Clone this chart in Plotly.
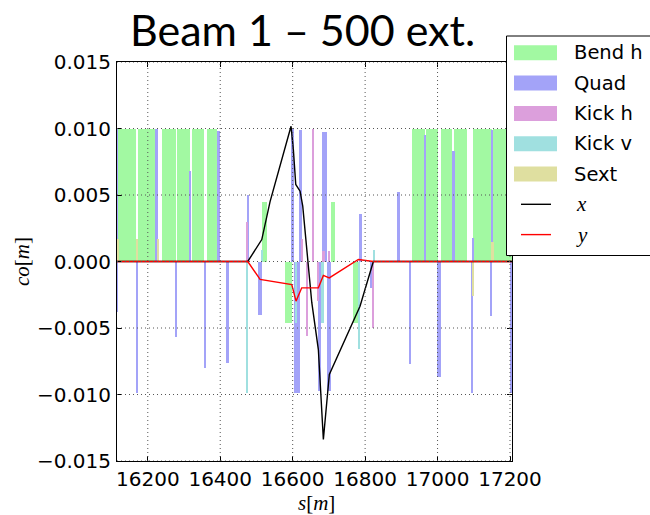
import plotly.graph_objects as go

# ---- lattice elements: centre s [m], length [m], plotted strength ----
bend_s = [16143.3, 16197.2, 16258.8, 16298.4, 16338.8, 16376.6,
          16521.6, 16588.0, 16711.0, 16775.0,
          16947.0, 16985.0, 17025.0, 17063.4, 17124.0, 17179.5]
bend_len = [48.8, 49.6, 37.0, 36.8, 34.8, 27.6,
            14.0, 18.0, 12.0, 15.0,
            36.6, 34.0, 32.0, 34.2, 50.8, 51.0]
bend_val = [0.010, 0.010, 0.010, 0.010, 0.010, 0.010,
            0.0045, -0.0046, 0.0045, -0.0046,
            0.010, 0.010, 0.010, 0.010, 0.010, 0.010]

quad_s = [16115, 16115, 16170, 16224, 16278, 16317, 16359, 16395, 16419.5,
          16477, 16510, 16600, 16611, 16622, 16675, 16688, 16700,
          16787, 16818, 16892, 16924, 16966, 17004, 17043, 17095, 17097,
          17148, 17150, 17202]
quad_len = [8, 8, 5, 7, 5, 7, 5, 8, 9,
            7, 9, 7, 17, 7, 9, 14, 10,
            7, 8, 7, 8, 4, 9, 8, 6, 6,
            3, 7, 6]
quad_val = [0.010, -0.0038, -0.0099, 0.010, -0.0057, 0.0068, -0.0080, 0.0098, -0.0076,
            0.0050, -0.0040, 0.0100, -0.0099, 0.0099, -0.0097, 0.0097, -0.0097,
            0.0036, -0.0020, 0.0052, -0.0077, 0.0095, -0.0087, 0.0083, -0.0099, 0.0018,
            -0.0041, 0.0099, -0.0099]

kickh_s = [16475, 16627, 16641, 16655, 16670, 16685, 16702, 16823]
kickh_len = [4, 3, 3, 3, 3, 8, 4, 3]
kickh_val = [0.0030, 0.0017, -0.0056, 0.0100, -0.0030, 0.0008, 0.0008, -0.0050]

kickv_s = [16475, 16516, 16610, 16683, 16784, 16825]
kickv_len = [3, 4, 5, 5, 4, 4]
kickv_val = [-0.0099, 0.0009, -0.0046, -0.0046, -0.0066, 0.0009]

sext_s = [16119, 16172, 16228, 17099, 17152]
sext_len = [4, 4, 4, 3, 5]
sext_val = [0.0017, 0.0017, 0.0017, -0.0026, 0.0015]

# ---- closed orbit ----
orbit_x_s = [16115, 16476, 16514.7, 16537.6, 16595.5, 16601.9, 16608.5, 16615.7,
             16620.4, 16627.8, 16638.9, 16648.0, 16652.7, 16670.9, 16684.7,
             16701.2, 16785.9, 16822.7, 17206]
orbit_x = [0, 0, 0.00165, 0.0045, 0.01017, 0.00842, 0.00579, 0.00554,
           0.00529, 0.00416, 0.00115, -0.00135, -0.00308, -0.00662, -0.01338,
           -0.0085, -0.00336, 0, 0]

orbit_y_s = [16115, 16476, 16510, 16565, 16597.5, 16609.3, 16625, 16671,
             16684.7, 16701, 16781.3, 16822.7, 17206]
orbit_y = [0, 0, -0.00135, -0.0016, -0.00173, -0.00298, -0.00198, -0.00198,
           -0.00105, -0.00123, 0.00015, 0, 0]

x_ticks = [16200, 16400, 16600, 16800, 17000, 17200]
y_ticks = [-0.015, -0.010, -0.005, 0.0, 0.005, 0.010, 0.015]

elem_names = ["Bend h", "Quad", "Kick h", "Kick v", "Sext"]
elem_colors = ["#a2f9a2", "#a3a3f8", "#dc9fdc", "#a0e0e0", "#dfdfa0"]
line_names = ["x", "y"]
line_colors = ["#000000", "#ff0000"]

fig = go.Figure()

groups = [(bend_s, bend_len, bend_val), (quad_s, quad_len, quad_val),
          (kickh_s, kickh_len, kickh_val), (kickv_s, kickv_len, kickv_val),
          (sext_s, sext_len, sext_val)]
for (s, L, v), name, col in zip(groups, elem_names, elem_colors):
    fig.add_trace(go.Bar(x=s, y=v, width=L, name=name, showlegend=False,
                         marker=dict(color=col, line=dict(width=0)),
                         hoverinfo="skip"))

for s, v, name, col in [(orbit_x_s, orbit_x, "x", "#000000"),
                        (orbit_y_s, orbit_y, "y", "#ff0000")]:
    fig.add_trace(go.Scatter(x=s, y=v, mode="lines", name=name, showlegend=False,
                             line=dict(color=col, width=1.4), hoverinfo="skip"))

# plot-area geometry (pixels)
L_PX, R_PX, T_PX, B_PX = 117, 512, 62, 461
W, H = 650, 515


def px(xp):
    return (xp - L_PX) / (R_PX - L_PX)


def py(yp):
    return (B_PX - yp) / (B_PX - T_PX)


shapes = []
# dotted grid drawn over the element bars
grid_line = dict(color="#555555", width=1, dash="1px,3px")
for t in x_ticks:
    shapes.append(dict(type="line", xref="x", yref="paper", x0=t, x1=t, y0=0, y1=1,
                       line=grid_line, layer="above"))
for t in y_ticks:
    shapes.append(dict(type="line", xref="paper", yref="y", x0=0, x1=1, y0=t, y1=t,
                       line=grid_line, layer="above"))

# legend box
shapes.append(dict(type="rect", xref="paper", yref="paper",
                   x0=px(506.5), x1=px(662), y0=py(255.5), y1=py(36),
                   fillcolor="white", line=dict(color="black", width=1), layer="above"))

annotations = []
row_y = [52.8, 83.1, 113.4, 143.7, 174.0, 204.3, 234.6]
for i, (name, col) in enumerate(zip(elem_names, elem_colors)):
    yc = row_y[i]
    shapes.append(dict(type="rect", xref="paper", yref="paper",
                       x0=px(514), x1=px(557), y0=py(yc + 7.5), y1=py(yc - 7.5),
                       fillcolor=col, line=dict(width=0), layer="above"))
    annotations.append(dict(text=name, xref="paper", yref="paper", x=px(572), y=py(yc),
                            xanchor="left", yanchor="middle", showarrow=False,
                            font=dict(family="DejaVu Sans", size=19.5, color="black")))
for j, (name, col) in enumerate(zip(line_names, line_colors)):
    yc = row_y[5 + j]
    shapes.append(dict(type="line", xref="paper", yref="paper",
                       x0=px(521), x1=px(551), y0=py(yc), y1=py(yc),
                       line=dict(color=col, width=1.4), layer="above"))
    annotations.append(dict(text="<i>%s</i>" % name, xref="paper", yref="paper",
                            x=px(574), y=py(yc), xanchor="left", yanchor="middle",
                            showarrow=False,
                            font=dict(family="Liberation Serif", size=21, color="black")))

# title and axis labels
annotations.append(dict(text="Beam 1 \u2013 500 ext.", xref="paper", yref="paper",
                        x=px(302), y=py(29), xanchor="center", yanchor="middle",
                        showarrow=False,
                        font=dict(family="Lato", size=43, color="black")))
annotations.append(dict(text="<i>co</i>[<i>m</i>]", xref="paper", yref="paper",
                        x=px(22), y=py(262), xanchor="center", yanchor="middle",
                        textangle=-90, showarrow=False,
                        font=dict(family="Liberation Serif", size=21, color="black")))
annotations.append(dict(text="<i>s</i>[<i>m</i>]", xref="paper", yref="paper",
                        x=px(316), y=py(503), xanchor="center", yanchor="middle",
                        showarrow=False,
                        font=dict(family="Liberation Serif", size=21, color="black")))

axis_common = dict(showline=True, linecolor="black", linewidth=1, mirror="ticks",
                   ticks="inside", ticklen=5, tickwidth=1, tickcolor="black",
                   showgrid=False, zeroline=False,
                   tickfont=dict(family="DejaVu Sans", size=20, color="black"))

fig.update_layout(
    width=W, height=H,
    margin=dict(l=L_PX, r=W - R_PX, t=T_PX, b=H - B_PX, pad=0),
    paper_bgcolor="white", plot_bgcolor="white",
    barmode="overlay", bargap=0,
    showlegend=False,
    xaxis=dict(range=[16115, 17205.5], tickvals=x_ticks,
               ticktext=[str(t) for t in x_ticks], **axis_common),
    yaxis=dict(range=[-0.015, 0.015], tickvals=y_ticks, tickformat=".3f",
               ticklabelstandoff=1, **axis_common),
    shapes=shapes,
    annotations=annotations,
)

fig.write_html("out.html")
